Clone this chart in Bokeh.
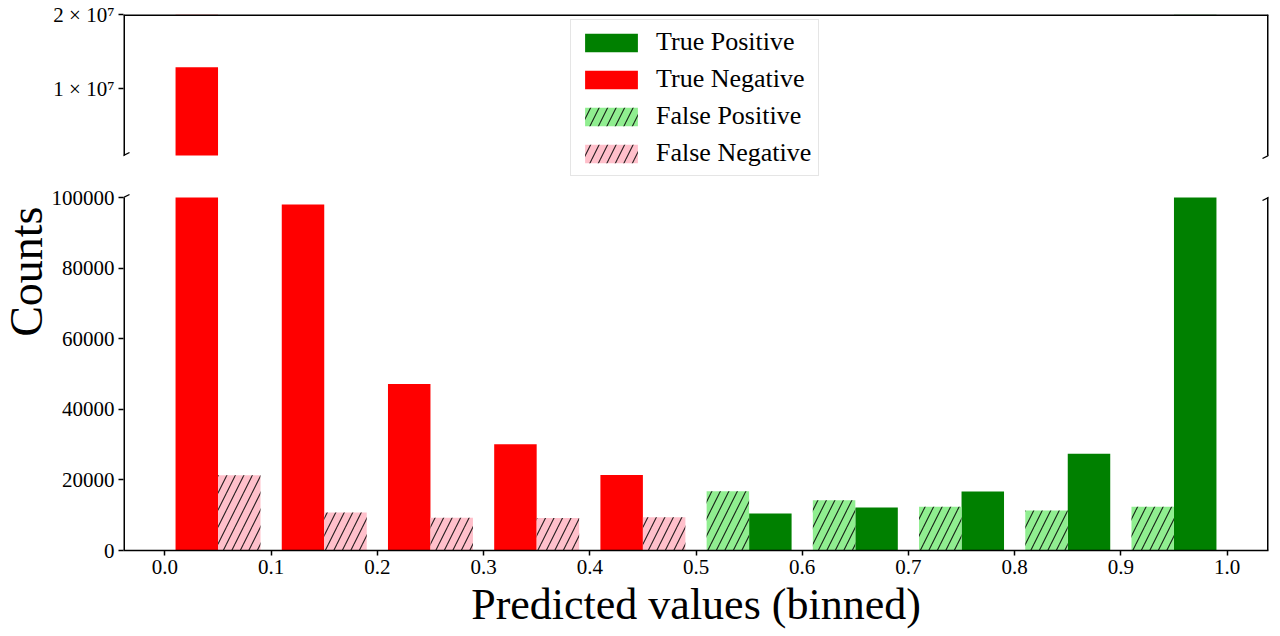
from bokeh.plotting import figure
from bokeh.models import (Range1d, FixedTicker, Legend, LegendItem, Title, ColumnDataSource,
                          CDSView, BooleanFilter)
from bokeh.transform import dodge
from bokeh.embed import file_html
from bokeh.resources import INLINE

# ---------------- data ----------------
neg_bins = [0.0, 0.1, 0.2, 0.3, 0.4]
pos_bins = [0.5, 0.6, 0.7, 0.8, 0.9]
true_negative = [12900000, 98000, 47200, 30100, 21400]
false_negative = [21300, 10800, 9300, 9200, 9400]
false_positive = [16800, 14200, 12400, 11300, 12400]
true_positive = [10500, 12200, 16700, 27400, 400000]

x_ticks = [0.0, 0.1, 0.2, 0.3, 0.4, 0.5, 0.6, 0.7, 0.8, 0.9, 1.0]
x_tick_labels = ["0.0", "0.1", "0.2", "0.3", "0.4", "0.5", "0.6", "0.7", "0.8", "0.9", "1.0"]
low_ticks = [0, 20000, 40000, 60000, 80000, 100000]
low_tick_labels = ["0", "20000", "40000", "60000", "80000", "100000"]
high_ticks = [10000000, 20000000]
high_tick_labels = ["1 × 10⁷", "2 × 10⁷"]

LOW_MIN, LOW_MAX = 0, 100000            # lower panel limits
HIGH_MIN, HIGH_MAX = 1000000, 20000000  # upper panel limits
X_MIN, X_MAX = -0.039, 1.039

# ---------------- layout (pixels) ----------------
FONT = "Liberation Serif"
W, H = 1272, 632
FRAME_L, FRAME_R, FRAME_T, FRAME_B = 123, 1268, 14, 550
LOW_TOP_PX = 197       # top of lower panel
HIGH_BOTTOM_PX = 155   # bottom of upper panel
BAR_W = 0.04
SPINE = 1.5

fh = FRAME_B - FRAME_T
fw = FRAME_R - FRAME_L
k_low = (LOW_MAX - LOW_MIN) / (FRAME_B - LOW_TOP_PX)         # units per px, lower
y_end = LOW_MIN + fh * k_low
k_high = (HIGH_MAX - HIGH_MIN) / (HIGH_BOTTOM_PX - FRAME_T)  # units per px, upper
high_start = HIGH_MIN - (FRAME_B - HIGH_BOTTOM_PX) * k_high


def high_to_low(v):
    return LOW_MIN + (v - high_start) / k_high * k_low


p = figure(width=W, height=H, x_range=Range1d(X_MIN, X_MAX), y_range=Range1d(LOW_MIN, y_end),
           output_backend="svg", toolbar_location=None,
           min_border_left=FRAME_L, min_border_right=W - FRAME_R,
           min_border_top=FRAME_T, min_border_bottom=H - FRAME_B)
p.extra_y_ranges = {"high": Range1d(high_start, HIGH_MAX)}
p.outline_line_color = None
p.grid.visible = False
p.background_fill_color = "white"
p.border_fill_color = "white"

neg_src = ColumnDataSource(dict(bin=neg_bins, tn=true_negative, fn=false_negative))
pos_src = ColumnDataSource(dict(bin=pos_bins, fp=false_positive, tp=true_positive))

HATCH = dict(hatch_pattern="/", hatch_color="black", hatch_alpha=0.85,
             hatch_scale=17, hatch_weight=1.1)

SERIES = [  # (source, column, values, offset, fill, hatched)
    (pos_src, "tp", true_positive, 0.07, "green", False),
    (neg_src, "tn", true_negative, 0.03, "red", False),
    (pos_src, "fp", false_positive, 0.03, "lightgreen", True),
    (neg_src, "fn", false_negative, 0.07, "pink", True),
]


def draw_bars(upper):
    rs = []
    for src, col, vals, off, fill, hatched in SERIES:
        kw = dict(x=dodge("bin", off, range=p.x_range), top=col, source=src, width=BAR_W,
                  fill_color=fill, line_color=None)
        if hatched:
            kw.update(HATCH)
        if upper:
            kw.update(bottom=HIGH_MIN, y_range_name="high",
                      view=CDSView(filter=BooleanFilter([v > HIGH_MIN for v in vals])))
        else:
            kw.update(bottom=LOW_MIN)
        rs.append(p.vbar(**kw))
    return rs


# lower panel bars
r_tp, r_tn, r_fp, r_fn = draw_bars(False)
# mask everything above the lower panel (gap + upper panel)
p.quad(left=X_MIN, right=X_MAX, bottom=LOW_MAX, top=y_end, fill_color="white", line_color=None)
# upper panel bars
draw_bars(True)

# spines (drawn on frame edges)
for xe in (X_MIN, X_MAX):
    p.segment(x0=xe, y0=LOW_MIN, x1=xe, y1=LOW_MAX, line_color="black", line_width=2 * SPINE)
    p.segment(x0=xe, y0=HIGH_MIN, x1=xe, y1=HIGH_MAX, line_color="black", line_width=2 * SPINE,
              y_range_name="high")
p.segment(x0=X_MIN, y0=HIGH_MAX, x1=X_MAX, y1=HIGH_MAX, line_color="black", line_width=2 * SPINE,
          y_range_name="high")

# break marks
dx = 6 * (X_MAX - X_MIN) / fw
for xe in (X_MIN, X_MAX):
    p.segment(x0=xe - dx, y0=LOW_MAX - 3 * k_low, x1=xe + dx, y1=LOW_MAX + 3 * k_low,
              line_color="black", line_width=1.3)
    p.segment(x0=xe - dx, y0=HIGH_MIN - 3 * k_high, x1=xe + dx, y1=HIGH_MIN + 3 * k_high,
              line_color="black", line_width=1.3, y_range_name="high")

# y axis (both panels on one axis)
ya = p.yaxis[0]
y_tick_pos = list(low_ticks) + [round(high_to_low(t)) for t in high_ticks]
y_tick_lab = list(low_tick_labels) + list(high_tick_labels)
ya.ticker = FixedTicker(ticks=y_tick_pos)
ya.major_label_overrides = {t: l for t, l in zip(y_tick_pos, y_tick_lab)}
ya.axis_line_color = None

xa = p.xaxis[0]
xa.ticker = FixedTicker(ticks=x_ticks)
xa.major_label_overrides = {t: l for t, l in zip(x_ticks, x_tick_labels)}
xa.axis_line_color = "black"
xa.axis_line_width = SPINE
xa.axis_label = "Predicted values (binned)"
xa.axis_label_text_font = FONT
xa.axis_label_text_font_size = "44px"
xa.axis_label_text_font_style = "normal"
xa.axis_label_text_color = "black"
xa.axis_label_standoff = 3

for ax in (xa, ya):
    ax.major_label_text_font = FONT
    ax.major_label_text_font_size = "21px"
    ax.major_label_text_color = "black"
    ax.major_tick_out = 5
    ax.major_tick_in = 0
    ax.major_tick_line_width = SPINE
    ax.major_tick_line_color = "black"
    ax.minor_tick_line_color = None
    ax.major_label_standoff = 4

p.add_layout(Title(text="Counts", align="right", offset=192, text_font=FONT,
                   text_font_size="46px", text_font_style="normal", text_color="black",
                   standoff=-7), "left")

legend = Legend(items=[LegendItem(label="True Positive", renderers=[r_tp]),
                       LegendItem(label="True Negative", renderers=[r_tn]),
                       LegendItem(label="False Positive", renderers=[r_fp]),
                       LegendItem(label="False Negative", renderers=[r_fn])],
                location=(570 - FRAME_L, FRAME_B - 176), margin=0, padding=7, spacing=7,
                glyph_width=66, glyph_height=23, label_height=29, label_standoff=12,
                label_text_font=FONT, label_text_font_size="26px", label_text_color="black",
                border_line_color="#cccccc", border_line_width=1,
                background_fill_alpha=0.85)
p.add_layout(legend)

open("out.html", "w").write(file_html(p, INLINE))
